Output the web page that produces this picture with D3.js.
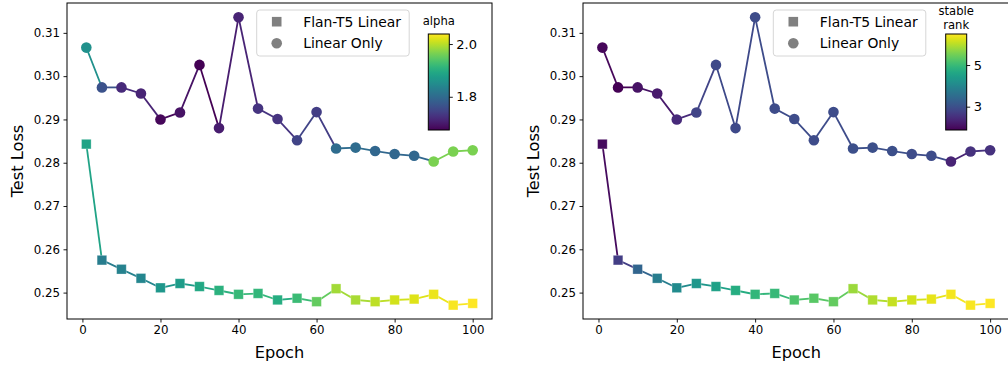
<!DOCTYPE html>
<html>
<head>
<meta charset="utf-8">
<script src="https://cdn.jsdelivr.net/npm/d3@7"></script>
<style>
  body { margin: 0; background: #fff; }
  svg { display: block; font-family: "DejaVu Sans", sans-serif; }
</style>
</head>
<body>
<svg id="chart" width="1008" height="366"></svg>
<script>
// data
const epochs = [1, 5, 10, 15, 20, 25, 30, 35, 40, 45, 50, 55, 60, 65, 70, 75, 80, 85, 90, 95, 100];

const flanLoss = [0.2843, 0.2575, 0.2554, 0.2533, 0.2511, 0.2521, 0.2514, 0.2505, 0.2496, 0.2498, 0.2483,
                  0.2487, 0.2479, 0.2509, 0.2483, 0.2479, 0.2483, 0.2485, 0.2496, 0.2471, 0.2475];
const linearLoss = [0.3066, 0.2974, 0.2974, 0.2960, 0.2900, 0.2916, 0.3026, 0.2880, 0.3136, 0.2925, 0.2901,
                    0.2852, 0.2917, 0.2833, 0.2835, 0.2827, 0.2820, 0.2816, 0.2803, 0.2826, 0.2829];

const flanAlpha = [1.885, 1.827, 1.834, 1.841, 1.867, 1.874, 1.892, 1.907, 1.918, 1.914, 1.900,
                   1.922, 1.951, 1.987, 1.991, 2.002, 2.013, 2.020, 2.027, 2.034, 2.038];
const linearAlpha = [1.856, 1.765, 1.718, 1.710, 1.681, 1.692, 1.674, 1.703, 1.710, 1.729, 1.729,
                     1.747, 1.740, 1.801, 1.801, 1.794, 1.794, 1.794, 1.965, 1.965, 1.965];

const flanRank = [2.02, 2.71, 3.36, 3.82, 4.09, 4.32, 4.51, 4.74, 4.92, 4.97, 5.20,
                  5.29, 5.38, 5.80, 5.94, 6.08, 6.17, 6.31, 6.40, 6.44, 6.49];
const linearRank = [1.97, 1.88, 2.11, 2.20, 2.43, 2.80, 2.89, 2.89, 2.94, 2.94, 2.94,
                    2.94, 2.94, 2.99, 2.99, 2.99, 2.94, 2.94, 2.34, 2.53, 2.53];

const xTicks = [0, 20, 40, 60, 80, 100];
const yTicks = [0.25, 0.26, 0.27, 0.28, 0.29, 0.30, 0.31];
const alphaTicks = [1.8, 2.0];
const rankTicks = [3, 5];
const seriesNames = ["Flan-T5 Linear", "Linear Only"];

const svg = d3.select("#chart");
let uid = 0;

function drawPanel(opts) {
    const left = opts.left, right = opts.right, top = 3, bottom = 319;

    // matplotlib-like 5% margins
    const x = d3.scaleLinear().domain([-3.95, 104.95]).range([left, right]);
    const y = d3.scaleLinear().domain([0.2439, 0.3169]).range([bottom, top]);

    const allC = opts.flanC.concat(opts.linC);
    const cmin = d3.min(allC), cmax = d3.max(allC);
    const color = d3.scaleSequential(d3.interpolateViridis).domain([cmin, cmax]);

    const g = svg.append("g");

    // clip so the cut-off right panel behaves like the picture
    const clipId = "clip" + (uid++);
    svg.append("clipPath").attr("id", clipId)
        .append("rect").attr("x", left).attr("y", top).attr("width", right - left).attr("height", bottom - top);

    const plot = g.append("g").attr("clip-path", `url(#${clipId})`);

    // line segments coloured by their starting point
    const series = [[opts.flanLoss, opts.flanC], [opts.linLoss, opts.linC]];
    series.forEach(([loss, cv]) => {
        const segs = d3.range(loss.length - 1);
        plot.append("g").selectAll("line")
            .data(segs)
            .join("line")
            .attr("x1", i => x(epochs[i]))
            .attr("y1", i => y(loss[i]))
            .attr("x2", i => x(epochs[i + 1]))
            .attr("y2", i => y(loss[i + 1]))
            .attr("stroke", i => color(cv[i]))
            .attr("stroke-width", 1.8)
            .attr("stroke-linecap", "square");
    });

    // square markers
    const sq = 9.6;
    plot.append("g").selectAll("rect")
        .data(epochs)
        .join("rect")
        .attr("x", d => x(d) - sq / 2)
        .attr("y", (d, i) => y(opts.flanLoss[i]) - sq / 2)
        .attr("width", sq)
        .attr("height", sq)
        .attr("fill", (d, i) => color(opts.flanC[i]))
        .attr("stroke", "rgba(255,255,255,0.35)")
        .attr("stroke-width", 0.8);

    // circle markers
    plot.append("g").selectAll("circle")
        .data(epochs)
        .join("circle")
        .attr("cx", d => x(d))
        .attr("cy", (d, i) => y(opts.linLoss[i]))
        .attr("r", 5.3)
        .attr("fill", (d, i) => color(opts.linC[i]));

    // axes
    const xAxis = g.append("g")
        .attr("transform", `translate(0,${bottom})`)
        .call(d3.axisBottom(x).tickValues(xTicks).tickSize(3.5).tickPadding(3.5).tickFormat(d3.format("d")));
    const yAxis = g.append("g")
        .attr("transform", `translate(${left},0)`)
        .call(d3.axisLeft(y).tickValues(yTicks).tickSize(3.5).tickPadding(3.5).tickFormat(d3.format(".2f")));
    [xAxis, yAxis].forEach(a => {
        a.select(".domain").remove();
        a.selectAll("line").attr("stroke", "#000").attr("stroke-width", 0.9);
        a.selectAll("text").attr("font-size", 11.8).attr("fill", "#000")
            .attr("font-family", "DejaVu Sans, sans-serif");
    });

    // frame
    g.append("rect")
        .attr("x", left).attr("y", top)
        .attr("width", right - left).attr("height", bottom - top)
        .attr("fill", "none").attr("stroke", "#000").attr("stroke-width", 1);

    // axis labels
    g.append("text")
        .attr("x", (left + right) / 2).attr("y", 358)
        .attr("text-anchor", "middle").attr("font-size", 16.2)
        .text("Epoch");
    g.append("text")
        .attr("transform", `translate(${opts.ylabX},161) rotate(-90)`)
        .attr("text-anchor", "middle").attr("font-size", 16.2)
        .text("Test Loss");

    // legend
    const lg = g.append("g").attr("transform", `translate(${opts.legX},10)`);
    lg.append("rect")
        .attr("width", 152.5).attr("height", 46).attr("rx", 3)
        .attr("fill", "rgba(255,255,255,0.8)").attr("stroke", "#d6d6d6").attr("stroke-width", 1);
    lg.append("rect").attr("x", 20 - 4.8).attr("y", 11.7 - 4.8).attr("width", 9.6).attr("height", 9.6)
        .attr("fill", "#808080");
    lg.append("circle").attr("cx", 20).attr("cy", 33.3).attr("r", 5.3).attr("fill", "#808080");
    lg.selectAll("text.leg")
        .data(seriesNames)
        .join("text")
        .attr("class", "leg")
        .attr("x", 46.5)
        .attr("y", (d, i) => 11.7 + i * 21.6)
        .attr("dy", "0.36em")
        .attr("font-size", 13.9)
        .text(d => d);

    // colorbar
    const cbX = opts.cbX, cbW = 21, cbTop = 34, cbBot = 130;
    const cy = d3.scaleLinear().domain([cmin, cmax]).range([cbBot, cbTop]);
    const gid = "grad" + (uid++);
    const grad = svg.append("defs").append("linearGradient").attr("id", gid)
        .attr("x1", 0).attr("y1", 1).attr("x2", 0).attr("y2", 0);
    d3.range(0, 1.0001, 0.05).forEach(t => {
        grad.append("stop").attr("offset", t).attr("stop-color", d3.interpolateViridis(t));
    });
    g.append("rect")
        .attr("x", cbX).attr("y", cbTop).attr("width", cbW).attr("height", cbBot - cbTop)
        .attr("fill", `url(#${gid})`).attr("stroke", "#000").attr("stroke-width", 1);
    const cbAxis = g.append("g")
        .attr("transform", `translate(${cbX + cbW},0)`)
        .call(d3.axisRight(cy).tickValues(opts.cbTicks).tickSize(3.5).tickPadding(3.5)
            .tickFormat(opts.cbFormat));
    cbAxis.select(".domain").remove();
    cbAxis.selectAll("line").attr("stroke", "#000").attr("stroke-width", 0.9);
    cbAxis.selectAll("text").attr("font-size", 13).attr("fill", "#000")
        .attr("font-family", "DejaVu Sans, sans-serif");

    g.append("text")
        .attr("text-anchor", "middle").attr("font-size", 11.6)
        .selectAll("tspan")
        .data(opts.cbLabel)
        .join("tspan")
        .attr("x", cbX + cbW / 2)
        .attr("y", (d, i) => opts.cbLabelY + i * 14)
        .text(d => d);
}

drawPanel({
    left: 67, right: 492,
    flanLoss: flanLoss, linLoss: linearLoss,
    flanC: flanAlpha, linC: linearAlpha,
    cbX: 428.3, cbTicks: alphaTicks, cbFormat: d3.format(".1f"),
    cbLabel: ["alpha"], cbLabelY: 25,
    legX: 256.7, ylabX: 23
});

drawPanel({
    left: 583, right: 1009.5,
    flanLoss: flanLoss, linLoss: linearLoss,
    flanC: flanRank, linC: linearRank,
    cbX: 945.7, cbTicks: rankTicks, cbFormat: d3.format("d"),
    cbLabel: ["stable", "rank"], cbLabelY: 15,
    legX: 773.3, ylabX: 539
});
</script>
</body>
</html>
